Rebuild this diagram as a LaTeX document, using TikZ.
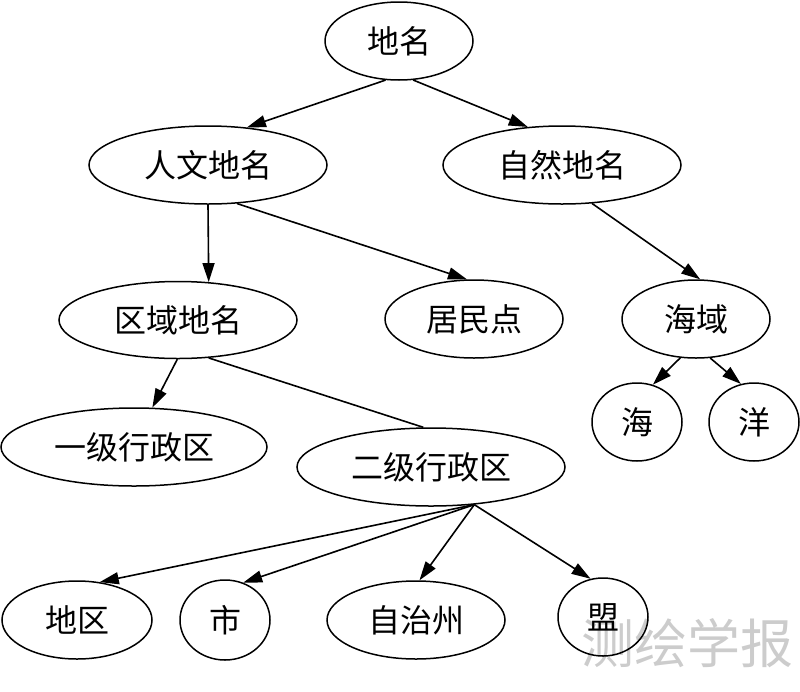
\documentclass[tikz,border=0pt]{standalone}
\usepackage{fontspec}
\newfontfamily\cjk{Noto Sans CJK SC}
\usetikzlibrary{shapes.geometric,arrows.meta}
\tikzset{
  el/.style={ellipse, draw, line width=1.5pt, inner sep=0pt,
    font=\cjk\fontsize{32}{32}\selectfont},
  arr/.style={line width=1.6pt, -{Triangle[length=19pt,width=12pt]}},
  plain/.style={line width=1.6pt},
  wmark/.style={text=black!20, font=\cjk\fontsize{53}{53}\selectfont, inner sep=0pt}
}
\begin{document}
\begin{tikzpicture}[x=1pt,y=-1pt]
\useasboundingbox (0,0) rectangle (800,691);
\node[wmark] (wm) at (687,643) {测绘学报};
% nodes
\node[el, minimum width=148pt, minimum height=78pt] (n0) at (399,41) {地名};
\node[el, minimum width=238pt, minimum height=78pt] (n1) at (208,165) {人文地名};
\node[el, minimum width=238pt, minimum height=78pt] (n2) at (562,165) {自然地名};
\node[el, minimum width=238pt, minimum height=77pt] (n3) at (178,320) {区域地名};
\node[el, minimum width=178pt, minimum height=78pt] (n4) at (474,319) {居民点};
\node[el, minimum width=148pt, minimum height=78pt] (n5) at (696,319) {海域};
\node[el, minimum width=90pt, minimum height=78pt] (n6) at (637,422) {海};
\node[el, minimum width=90pt, minimum height=78pt] (n7) at (754,422) {洋};
\node[el, minimum width=266pt, minimum height=78pt] (n8) at (134,447) {一级行政区};
\node[el, minimum width=268pt, minimum height=78pt] (n9) at (431,467) {二级行政区};
\node[el, minimum width=150pt, minimum height=78pt] (n10) at (77,620) {地区};
\node[el, minimum width=90pt, minimum height=80pt] (n11) at (225,620) {市};
\node[el, minimum width=178pt, minimum height=78pt] (n12) at (416,620) {自治州};
\node[el, minimum width=90pt, minimum height=78pt] (n13) at (603,617) {盟};
% edges
\draw[arr] (n0.-109.7) -- (n1.44.3);
\draw[arr] (n0.-70.3) -- (n2.132.6);
\draw[arr] (n1.-90) -- (n3.51.7);
\draw[arr] (n1.-53.4) -- (n4.100.2);
\draw[arr] (n2.-52.4) -- (n5.84.1);
\draw[arr] (n3.-91.5) -- (n8.65.2);
\draw[plain] (n3.-51.7) -- (n9.101.6);
\draw[arr] (n5.-112.3) -- (n6.67.7);
\draw[arr] (n5.-70.3) -- (n7.109.7);
\draw[arr] (n9.-41.6) -- (n10.59.5);
\draw[arr] (n9.-41.6) -- (n11.64);
\draw[arr] (n9.-41.6) -- (n12.85.6);
\draw[arr] (n9.-41.6) -- (n13.108.4);
\end{tikzpicture}
\end{document}
